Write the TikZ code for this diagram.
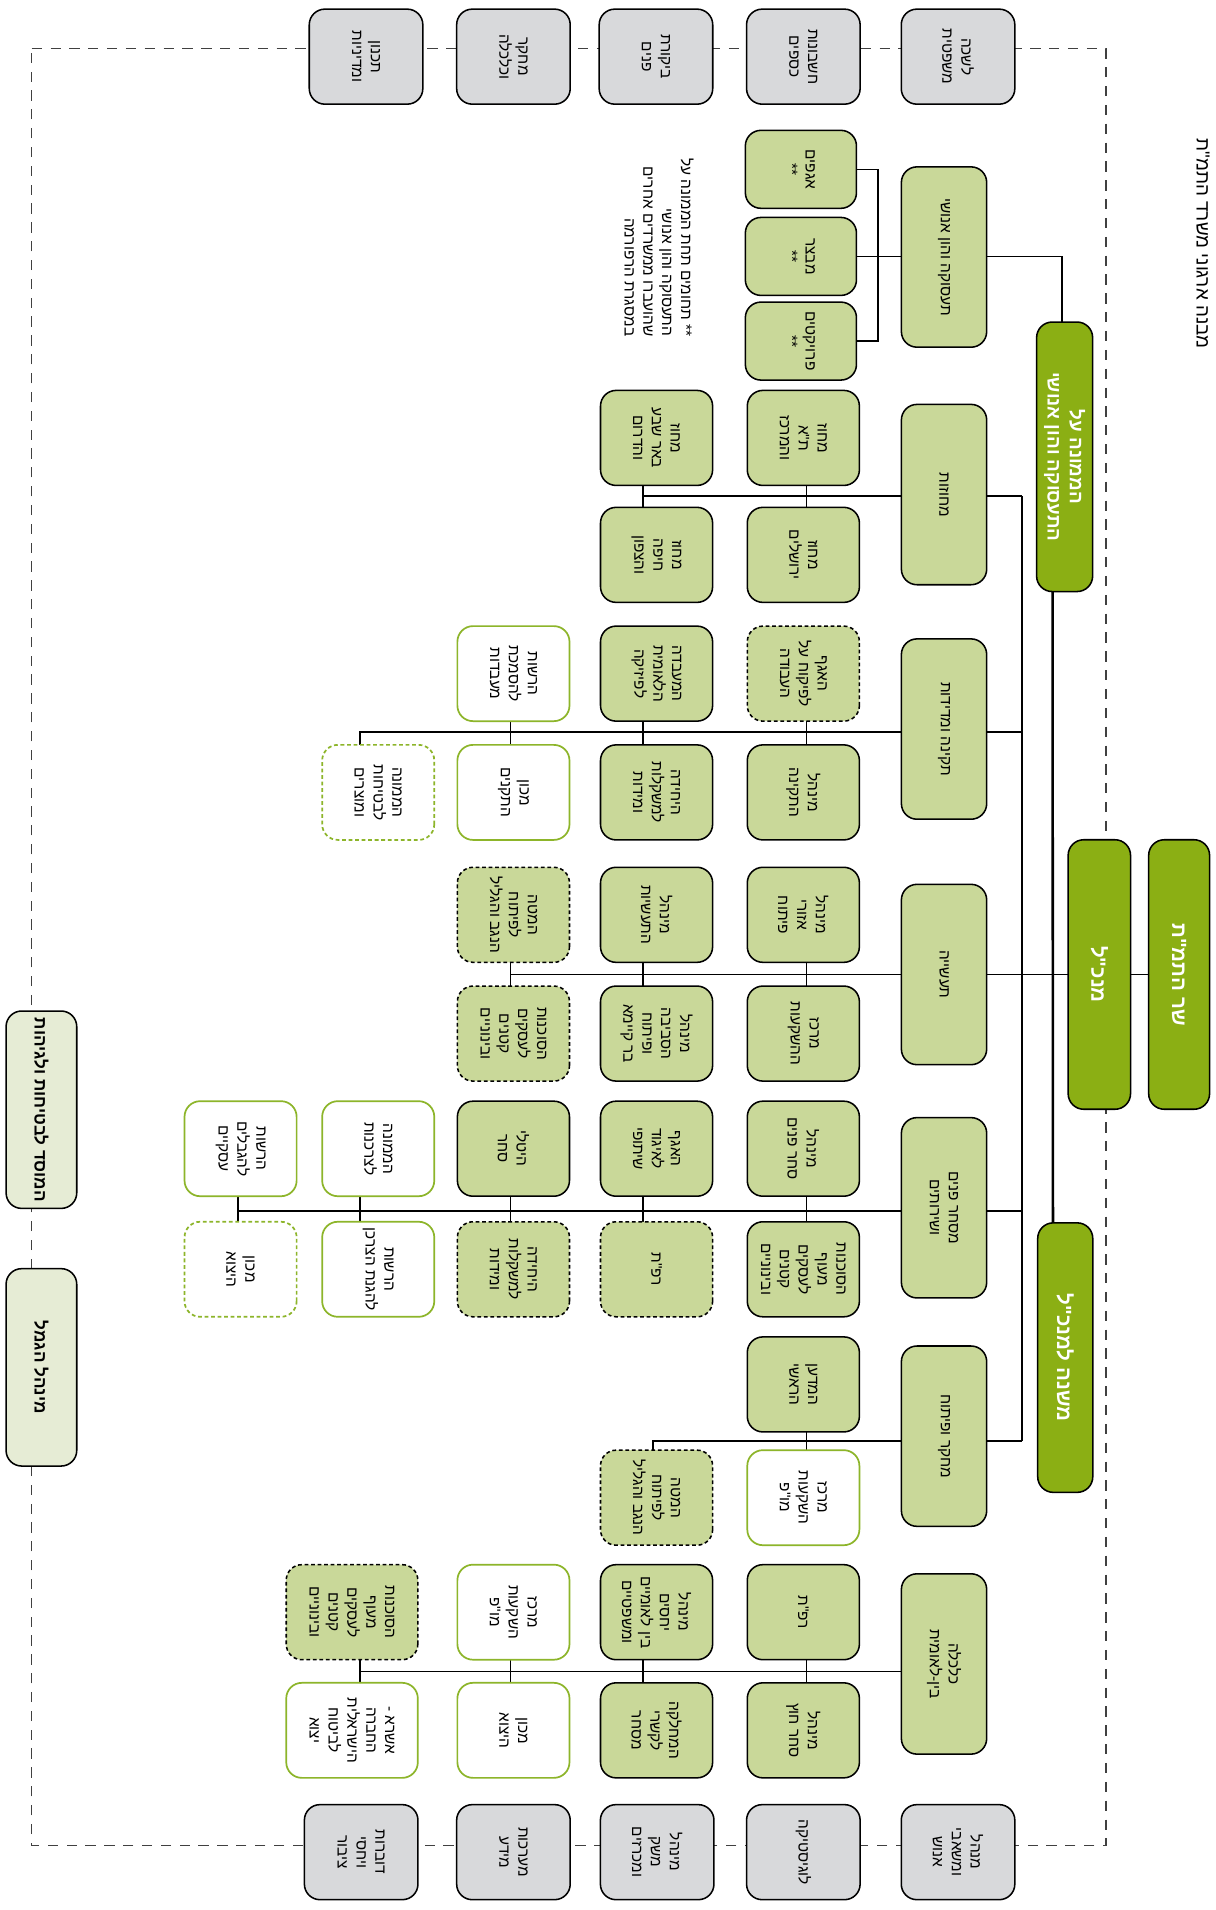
\documentclass[tikz,border=0pt]{standalone}
\usepackage{fontspec}
\setmainfont{Liberation Sans}
\newfontfamily\heb[Script=Hebrew]{Liberation Sans}
\TeXXeTstate=1
\usetikzlibrary{backgrounds,calc}
\newcommand\HR[1]{\beginR#1\endR}
\definecolor{dgreen}{HTML}{8BAF14}
\definecolor{lgreen}{HTML}{C9D899}
\definecolor{wgreen}{HTML}{8DB52A}
\definecolor{gfill}{HTML}{D8D9DB}
\definecolor{sidefill}{HTML}{E6ECD5}
\tikzset{
 base/.style={rotate=-90, rounded corners=0.32cm, line width=0.9pt, align=center, inner sep=0pt, font=\heb\fontsize{9}{11}\selectfont},
 kidbox/.style={base, draw=black, fill=lgreen, minimum width=1.95cm, minimum height=2.3cm},
 kiddash/.style={kidbox, dash pattern=on 2.2pt off 1.6pt},
 kidwhite/.style={base, draw=wgreen, fill=white, line width=1pt, minimum width=1.95cm, minimum height=2.3cm},
 kidwdash/.style={kidwhite, dash pattern=on 2.2pt off 1.6pt},
 smallkid/.style={kidbox, minimum width=1.6cm, minimum height=2.28cm},
 deptbox/.style={base, draw=black, fill=lgreen, minimum width=3.7cm, minimum height=1.75cm},
 graybox/.style={base, draw=black, fill=gfill, minimum width=1.95cm, minimum height=2.33cm},
 topbox/.style={base, draw=black, fill=dgreen, text=white, minimum width=5.53cm, font=\heb\bfseries\fontsize{12}{14}\selectfont},
 sidebox/.style={base, draw=black, fill=sidefill, minimum width=4.05cm, minimum height=1.45cm, font=\heb\bfseries\fontsize{10}{12}\selectfont},
 conn/.style={line width=0.9pt},
 thickconn/.style={line width=1.5pt},
 framel/.style={line width=0.7pt, draw=black!75, dash pattern=on 6pt off 5pt}
}
\begin{document}
\begin{tikzpicture}[x=0.025cm,y=-0.025cm]
\useasboundingbox (0,0) rectangle (998,1568);
% title
\node[rotate=-90, anchor=south, inner sep=0pt, font=\heb\fontsize{11}{13}\selectfont] (title) at (982,200) {\HR{מבנה ארגוני משרד התמ"ת}};
% top level
\node[topbox, minimum height=1.25cm] (sar) at (968,800) {\HR{שר התמ"ת}};
\node[topbox, minimum height=1.28cm] (mankal) at (902.5,800) {\HR{מנכ"ל}};
\node[topbox, minimum height=1.15cm, font=\heb\bfseries\fontsize{11}{13}\selectfont] (mem) at (874,375) {\HR{הממונה על}\\\HR{התעסוקה והון אנושי}};
\node[topbox, minimum height=1.13cm] (mish) at (874.5,1114.5) {\HR{משנה למנכ"ל}};
% departments
\node[deptbox] (d1) at (775,211) {\HR{תעסוקה והון אנושי}};
\node[deptbox] (d2) at (775,406) {\HR{מחוזות}};
\node[deptbox] (d3) at (775,598.5) {\HR{תקינה ומדידות}};
\node[deptbox] (d4) at (775,800) {\HR{תעשייה}};
\node[deptbox] (d5) at (775,991.5) {\HR{מסחר פנים}\\\HR{ושירותים}};
\node[deptbox] (d6) at (775,1179) {\HR{מחקר ופיתוח}};
\node[deptbox] (d7) at (775,1366) {\HR{כלכלה}\\\HR{בין-לאומית}};
% D1 children
\node[smallkid] (k1a) at (657.5,139) {\HR{אגפים}\\\HR{**}};
\node[smallkid] (k1b) at (657.5,210.5) {\HR{מבצר}\\\HR{**}};
\node[smallkid] (k1c) at (657.5,280) {\HR{פרויקטים}\\\HR{**}};
\node[rotate=-90, align=right, font=\heb\fontsize{9}{11}\selectfont] (note) at (541,203) {\HR{** תחומים תחת הממונה על}\\\HR{התעסוקה והון אנושי}\\\HR{שהועברו ממשרדים אחרים}\\\HR{במסגרת הרפורמה}};
% D2 children
\node[kidbox] (k2a) at (659.5,359.5) {\HR{מחוז}\\\HR{ת"א}\\\HR{והמרכז}};
\node[kidbox] (k2b) at (659.5,455.5) {\HR{מחוז}\\\HR{ירושלים}};
\node[kidbox] (k2c) at (539,359.5) {\HR{מחוז}\\\HR{באר שבע}\\\HR{והדרום}};
\node[kidbox] (k2d) at (539,455.5) {\HR{מחוז}\\\HR{חיפה}\\\HR{והצפון}};
% D3 children
\node[kiddash] (k3a) at (659.5,553) {\HR{האגף}\\\HR{לפיקוח על}\\\HR{העבודה}};
\node[kidbox] (k3b) at (659.5,650.5) {\HR{מינהל}\\\HR{התקינה}};
\node[kidbox] (k3c) at (539,553) {\HR{המעבדה}\\\HR{הלאומית}\\\HR{לפיזיקה}};
\node[kidbox] (k3d) at (539,650.5) {\HR{היחידה}\\\HR{למשקלות}\\\HR{ומידות}};
\node[kidwhite] (k3e) at (421.5,553) {\HR{הרשות}\\\HR{להסמכת}\\\HR{מעבדות}};
\node[kidwhite] (k3f) at (421.5,650.5) {\HR{מכון}\\\HR{התקנים}};
\node[kidwdash] (k3g) at (310.5,650.5) {\HR{הממונה}\\\HR{לבטיחות}\\\HR{ומוצרים}};
% D4 children
\node[kidbox] (k4a) at (659.5,751) {\HR{מינהל}\\\HR{אזורי}\\\HR{פיתוח}};
\node[kidbox] (k4b) at (659.5,848.5) {\HR{מרכז}\\\HR{ההשקעות}};
\node[kidbox] (k4c) at (539,751) {\HR{מינהל}\\\HR{התעשיות}};
\node[kidbox] (k4d) at (539,848.5) {\HR{מינהל}\\\HR{הסביבה}\\\HR{ופיתוח}\\\HR{בר קיימא}};
\node[kiddash] (k4e) at (421.5,751) {\HR{המטה}\\\HR{לפיתוח}\\\HR{הנגב והגליל}};
\node[kiddash] (k4f) at (421.5,848.5) {\HR{הסוכנות}\\\HR{לעסקים}\\\HR{קטנים}\\\HR{ובינוניים}};
% D5 children
\node[kidbox] (k5a) at (659.5,943) {\HR{מינהל}\\\HR{סחר פנים}};
\node[kidbox] (k5b) at (659.5,1042) {\HR{הסוכנות}\\\HR{מעוף}\\\HR{לעסקים}\\\HR{קטנים}\\\HR{ובינוניים}};
\node[kidbox] (k5c) at (539,943) {\HR{האגף}\\\HR{לאיגוד}\\\HR{שיתופי}};
\node[kiddash] (k5d) at (539,1042) {\HR{רפ"ת}};
\node[kidbox] (k5e) at (421.5,943) {\HR{היטלי}\\\HR{סחר}};
\node[kiddash] (k5f) at (421.5,1042) {\HR{היחידה}\\\HR{למשקלות}\\\HR{ומידות}};
\node[kidwhite] (k5g) at (310.5,943) {\HR{הממונה}\\\HR{לצרכנות}};
\node[kidwhite] (k5h) at (310.5,1042) {\HR{הרשות}\\\HR{להגנת הצרכן}};
\node[kidwhite] (k5i) at (197.5,943) {\HR{הרשות}\\\HR{להגבלים}\\\HR{עסקיים}};
\node[kidwdash] (k5j) at (197.5,1042) {\HR{מכון}\\\HR{היצוא}};
% D6 children
\node[kidbox] (k6a) at (659.5,1136.5) {\HR{המדען}\\\HR{הראשי}};
\node[kidwhite] (k6b) at (659.5,1229.5) {\HR{מרכז}\\\HR{השקעות}\\\HR{מו"פ}};
\node[kiddash] (k6c) at (539,1229.5) {\HR{המטה}\\\HR{לפיתוח}\\\HR{הנגב והגליל}};
% D7 children
\node[kidbox] (k7a) at (659.5,1323.5) {\HR{רפ"ת}};
\node[kidbox] (k7b) at (659.5,1420.5) {\HR{מינהל}\\\HR{סחר חוץ}};
\node[kidbox] (k7c) at (539,1323.5) {\HR{מינהל}\\\HR{יחסים}\\\HR{בין לאומיים}\\\HR{ומשפטיים}};
\node[kidbox] (k7d) at (539,1420.5) {\HR{המחלקה}\\\HR{לקשרי}\\\HR{מסחר}};
\node[kidwhite] (k7e) at (421.5,1323.5) {\HR{מרכז}\\\HR{השקעות}\\\HR{מו"פ}};
\node[kidwhite] (k7f) at (421.5,1420.5) {\HR{מכון}\\\HR{היצוא}};
\node[kiddash, minimum height=2.7cm] (k7g) at (289,1323.5) {\HR{הסוכנות}\\\HR{מעוף}\\\HR{לעסקים}\\\HR{קטנים}\\\HR{ובינוניים}};
\node[kidwhite, minimum height=2.7cm] (k7h) at (289,1420.5) {\HR{אשרא -}\\\HR{החברה}\\\HR{הישראלית}\\\HR{לביטוח}\\\HR{יצוא}};
% staff units (gray)
\node[graybox] (g1) at (300.5,46.5) {\HR{תכנון}\\\HR{ומדיניות}};
\node[graybox] (g2) at (421.5,46.5) {\HR{מחקר}\\\HR{וכלכלה}};
\node[graybox] (g3) at (538.5,46.5) {\HR{ביקורת}\\\HR{פנים}};
\node[graybox] (g4) at (659.5,46.5) {\HR{חשבונות}\\\HR{כספים}};
\node[graybox] (g5) at (786.5,46.5) {\HR{לשכה}\\\HR{משפטית}};
\node[graybox] (b1) at (296.5,1520.5) {\HR{דוברות}\\\HR{ויחסי}\\\HR{ציבור}};
\node[graybox] (b2) at (421.5,1520.5) {\HR{מערכות}\\\HR{מידע}};
\node[graybox] (b3) at (539.5,1520.5) {\HR{מינהל}\\\HR{משק}\\\HR{ומכרזים}};
\node[graybox] (b4) at (659.5,1520.5) {\HR{לוגיסטיקה}};
\node[graybox] (b5) at (786.5,1520.5) {\HR{מנהל}\\\HR{ומשאבי}\\\HR{אנוש}};
% side boxes
\node[sidebox] (s1) at (34,911) {\HR{המוסד לבטיחות ולגיהות}};
\node[sidebox] (s2) at (34,1122.5) {\HR{מינהל הגמל}};
% ---------- connectors ----------
\coordinate (f1) at (26,40);
\coordinate (f2) at (908,40);
\coordinate (f3) at (908,1515);
\coordinate (f4) at (26,1515);
\coordinate (bt) at (839,407);
\coordinate (r2) at (0,407);
\coordinate (r3) at (0,601);
\coordinate (r4) at (0,800);
\coordinate (r5) at (0,994);
\coordinate (r6) at (0,1183);
\coordinate (r7) at (0,1372);
\coordinate (s3) at (662,0);
\coordinate (s4) at (528,0);
\coordinate (s5) at (419,0);
\coordinate (s6) at (295.5,0);
\coordinate (s7) at (195.5,0);
\coordinate (s6d) at (536,0);
\coordinate (bk) at (720.6,0);
\coordinate (c1) at (872,210.5);
\begin{pgfonlayer}{background}
\fill[white] (0,0) rectangle (998,1568);
\draw[framel] (f1) -- (f2) -- (f3) -- (f4) -- cycle;
% main
\draw[conn] (d4.center) -- (sar.center);
\draw[thickconn] ($(mem.center)+(-10,0)$) -- ($(mish.center)+(-10,0)$);
\draw[conn] (r2 -| bt) -- (r6 -| bt);
% D1
\draw[conn] (k1b.center) -- (c1) -- (c1 |- mem.center);
\draw[conn] (k1a.center) -- (k1a.center -| bk) -- (k1c.center -| bk) -- (k1c.center);
% D2
\draw[conn] (r2 -| bt) -- (r2 -| s4);
\draw[conn] (k2a.center -| s3) -- (k2b.center -| s3);
\draw[conn] (k2c.center -| s4) -- (k2d.center -| s4);
% D3
\draw[conn] (r3 -| bt) -- (r3 -| s6) -- (k3g.center -| s6);
\draw[conn] (k3a.center -| s3) -- (k3b.center -| s3);
\draw[conn] (k3c.center -| s4) -- (k3d.center -| s4);
\draw[conn] (k3e.center -| s5) -- (k3f.center -| s5);
% D4
\draw[conn] (r4 -| d4.center) -- (r4 -| s5);
\draw[conn] (k4a.center -| s3) -- (k4b.center -| s3);
\draw[conn] (k4c.center -| s4) -- (k4d.center -| s4);
\draw[conn] (k4e.center -| s5) -- (k4f.center -| s5);
% D5
\draw[conn] (r5 -| bt) -- (r5 -| s7);
\draw[conn] (k5a.center -| s3) -- (k5b.center -| s3);
\draw[conn] (k5c.center -| s4) -- (k5d.center -| s4);
\draw[conn] (k5e.center -| s5) -- (k5f.center -| s5);
\draw[conn] (k5g.center -| s6) -- (k5h.center -| s6);
\draw[conn] (k5i.center -| s7) -- (k5j.center -| s7);
% D6
\draw[conn] (r6 -| bt) -- (r6 -| s6d) -- (k6c.center -| s6d);
\draw[conn] (k6a.center -| s3) -- (k6b.center -| s3);
% D7
\draw[conn] (r7 -| d7.center) -- (r7 -| s6);
\draw[conn] (k7a.center -| s3) -- (k7b.center -| s3);
\draw[conn] (k7c.center -| s4) -- (k7d.center -| s4);
\draw[conn] (k7e.center -| s5) -- (k7f.center -| s5);
\draw[conn] (k7g.center -| s6) -- (k7h.center -| s6);
\end{pgfonlayer}
\end{tikzpicture}
\end{document}
